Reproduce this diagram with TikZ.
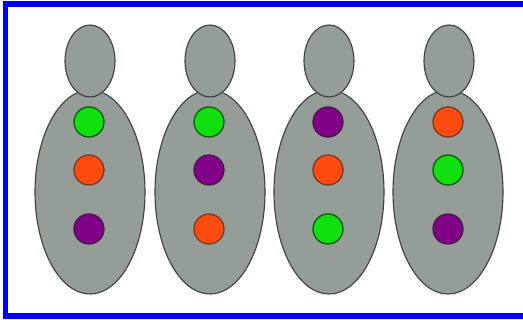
\documentclass[tikz,border=0pt]{standalone}
\usetikzlibrary{shapes.geometric}
\definecolor{bodygray}{HTML}{949D98}
\definecolor{edgegray}{HTML}{3C3F3D}
\definecolor{dotgreen}{HTML}{10E010}
\definecolor{dotgreenE}{HTML}{0A5A0A}
\definecolor{dotorange}{HTML}{FF4A10}
\definecolor{dotorangeE}{HTML}{7A3A20}
\definecolor{dotpurple}{HTML}{800088}
\definecolor{dotpurpleE}{HTML}{4A1A4A}
\definecolor{frameblue}{HTML}{0000FF}
\tikzset{
  bodyshape/.style={ellipse, draw=edgegray, fill=bodygray, line width=1.1pt, inner sep=0pt, minimum width=110pt, minimum height=204pt},
  headshape/.style={ellipse, draw=edgegray, fill=bodygray, line width=1.1pt, inner sep=0pt, minimum width=50pt, minimum height=72pt},
  dot/.style={circle, line width=1.3pt, inner sep=0pt, minimum size=30pt},
  gdot/.style={dot, fill=dotgreen, draw=dotgreenE},
  odot/.style={dot, fill=dotorange, draw=dotorangeE},
  pdot/.style={dot, fill=dotpurple, draw=dotpurpleE},
}
\begin{document}
\begin{tikzpicture}[x=1pt,y=-1pt]
\useasboundingbox (0,0) rectangle (523,320);
\fill[white] (0,0) rectangle (523,320);
\draw[frameblue, line width=5.5pt] (5.5,4) rectangle (535,316);
% figure 1
\node[bodyshape] (b1) at (90,192) {};
\node[headshape] (h1) at (90,61) {};
\node[gdot] (d11) at (89,122) {};
\node[odot] (d12) at (89,170) {};
\node[pdot] (d13) at (89,229) {};
% figure 2
\node[bodyshape] (b2) at (210,192) {};
\node[headshape] (h2) at (210,61) {};
\node[gdot] (d21) at (209,122) {};
\node[pdot] (d22) at (209,170) {};
\node[odot] (d23) at (209,229) {};
% figure 3
\node[bodyshape] (b3) at (329,192) {};
\node[headshape] (h3) at (329,61) {};
\node[pdot] (d31) at (328,122) {};
\node[odot] (d32) at (328,170) {};
\node[gdot] (d33) at (328,229) {};
% figure 4
\node[bodyshape] (b4) at (448,192) {};
\node[headshape] (h4) at (449,61) {};
\node[odot] (d41) at (448,122) {};
\node[gdot] (d42) at (448,170) {};
\node[pdot] (d43) at (448,229) {};
\end{tikzpicture}
\end{document}
